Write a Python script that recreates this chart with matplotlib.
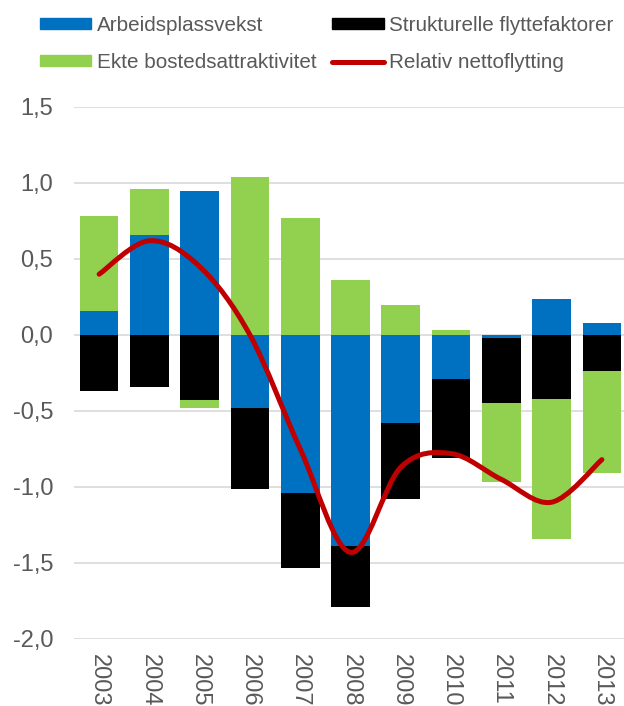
import numpy as np
import matplotlib
matplotlib.use("Agg")
import matplotlib.pyplot as plt
from matplotlib.path import Path
from matplotlib.patches import PathPatch, Patch
from matplotlib.lines import Line2D

plt.rcParams['font.family'] = ['Liberation Sans', 'DejaVu Sans']

# data
years = ['2003', '2004', '2005', '2006', '2007', '2008', '2009', '2010', '2011', '2012', '2013']
arbeid = [0.16, 0.66, 0.95, -0.48, -1.04, -1.39, -0.58, -0.29, -0.02, 0.24, 0.08]
struktur = [-0.37, -0.34, -0.43, -0.53, -0.49, -0.40, -0.50, -0.52, -0.43, -0.42, -0.24]
bosted = [0.62, 0.30, -0.05, 1.04, 0.77, 0.36, 0.20, 0.03, -0.52, -0.92, -0.67]
netto = [0.40, 0.62, 0.45, 0.0, -0.75, -1.43, -0.87, -0.78, -0.95, -1.10, -0.82]

labels = ['Arbeidsplassvekst', 'Strukturelle flyttefaktorer',
          'Ekte bostedsattraktivitet', 'Relativ nettoflytting']
colors = ['#0070C0', '#000000', '#92D050']
red = '#C00000'
grey = '#595959'

fig = plt.figure(figsize=(6.24, 7.06), dpi=100)
ax = fig.add_axes([74 / 624, 67 / 706, 553 / 624, 532 / 706])

x = np.arange(len(years))
pos_base = np.zeros(len(years))
neg_base = np.zeros(len(years))
for vals, col in zip([arbeid, struktur, bosted], colors):
    v = np.array(vals)
    base = np.where(v >= 0, pos_base, neg_base)
    ax.bar(x, v, bottom=base, width=0.77, color=col, zorder=2)
    pos_base = pos_base + np.where(v >= 0, v, 0)
    neg_base = neg_base + np.where(v < 0, v, 0)

# smoothed line (bezier through the points, like Excel's smoothing)
pts = np.column_stack([x, netto])
verts = [pts[0]]
codes = [Path.MOVETO]
n = len(pts)
for i in range(n - 1):
    p0 = pts[max(i - 1, 0)]
    p1 = pts[i]
    p2 = pts[i + 1]
    p3 = pts[min(i + 2, n - 1)]
    c1 = p1 + (p2 - p0) / 6
    c2 = p2 - (p3 - p1) / 6
    verts += [c1, c2, p2]
    codes += [Path.CURVE4] * 3
ax.add_patch(PathPatch(Path(verts, codes), fill=False, edgecolor=red, lw=3.6,
                       capstyle='round', joinstyle='round', zorder=3))

ax.set_ylim(-2.0, 1.5)
ax.set_xlim(-0.5, 10.5)
yt = [-2.0, -1.5, -1.0, -0.5, 0.0, 0.5, 1.0, 1.5]
ax.set_yticks(yt)
ax.set_yticklabels([('%.1f' % t).replace('.', ',') for t in yt])
ax.set_xticks(x)
ax.set_xticklabels(years, rotation=270)
ax.tick_params(axis='both', length=0, labelsize=17, labelcolor=grey)
ax.tick_params(axis='y', pad=15)
ax.tick_params(axis='x', pad=11)
ax.grid(axis='y', color='#D9D9D9', lw=1.2, zorder=0)
ax.set_axisbelow(True)
for s in ax.spines.values():
    s.set_visible(False)

# legend fills column by column, so order it to read row-wise like the original
handles = [Patch(color=colors[0]), Patch(color=colors[2]),
           Patch(color=colors[1]), Line2D([], [], color=red, lw=3.6, solid_capstyle='round')]
leg_labels = [labels[0], labels[2], labels[1], labels[3]]
leg = fig.legend(handles, leg_labels, ncol=2, loc='upper left',
                 bbox_to_anchor=(21 / 624, 1 + 3 / 706), frameon=False,
                 fontsize=14.9, handlelength=2.5, handleheight=0.45,
                 handletextpad=0.25, columnspacing=0.78, labelspacing=0.9)
for t in leg.get_texts():
    t.set_color(grey)

fig.savefig('out.png', dpi=100)
